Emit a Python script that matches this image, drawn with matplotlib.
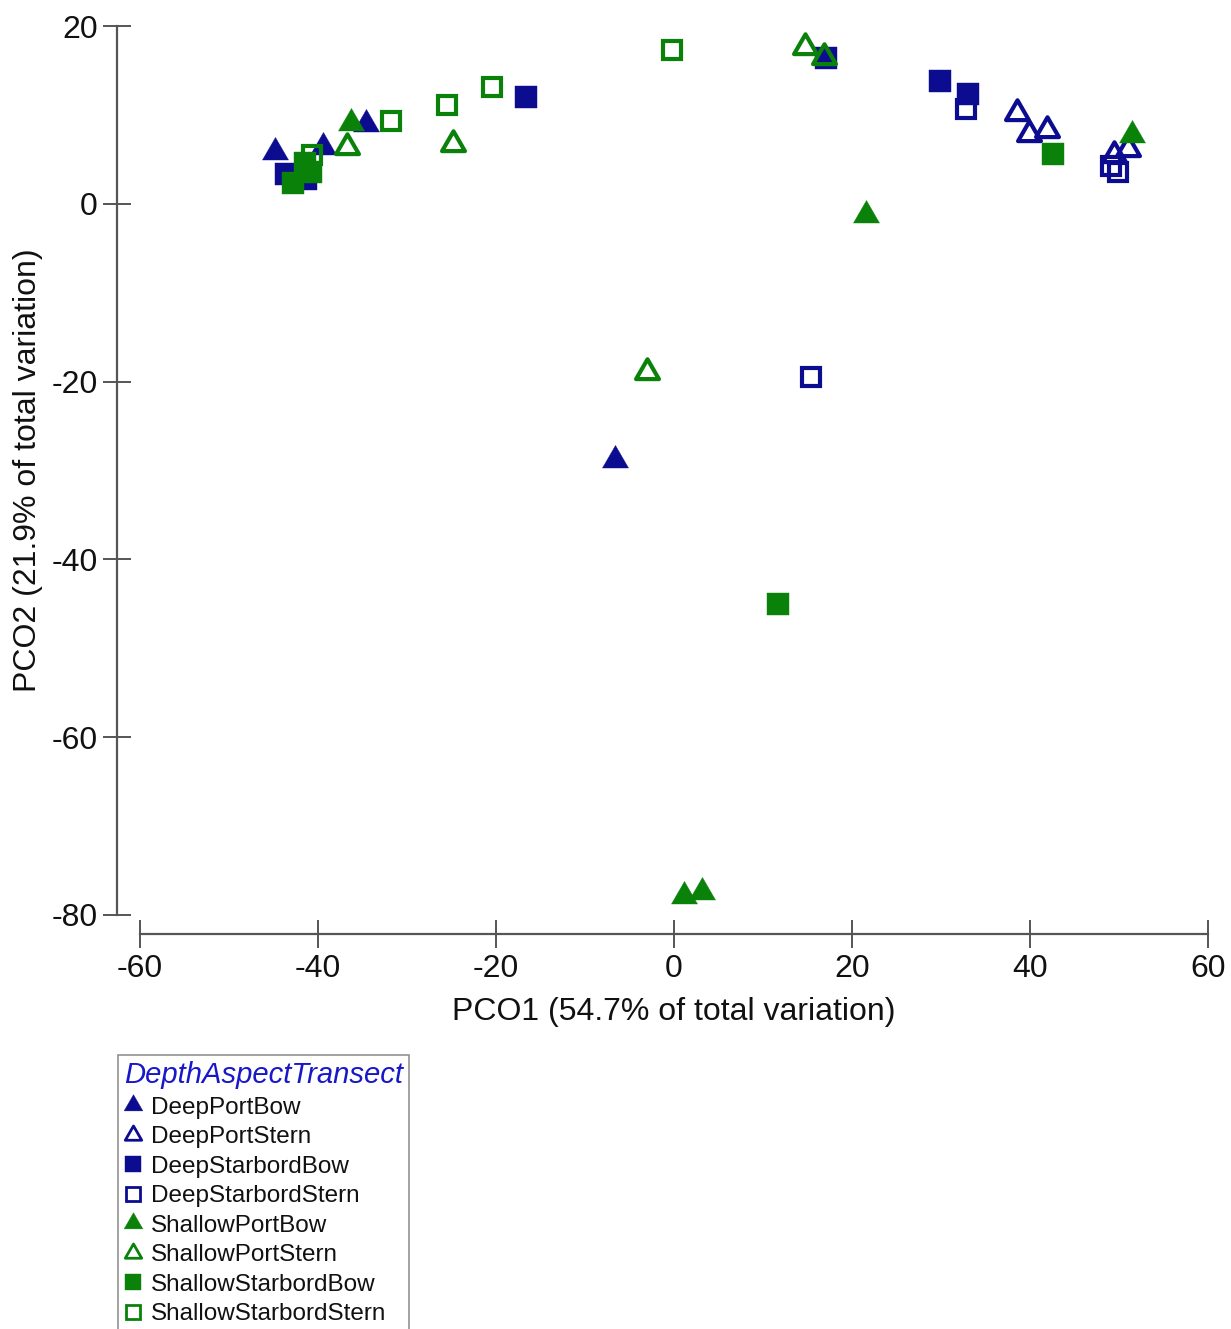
import matplotlib
matplotlib.use("Agg")
import matplotlib.pyplot as plt
from matplotlib.path import Path
from matplotlib.lines import Line2D

plt.rcParams['font.family'] = ['Liberation Sans', 'DejaVu Sans']
plt.rcParams['axes.unicode_minus'] = False

# ---- data ----
groups = ["DeepPortBow", "DeepPortStern", "DeepStarbordBow", "DeepStarbordStern",
          "ShallowPortBow", "ShallowPortStern", "ShallowStarbordBow", "ShallowStarbordStern"]

dpb_x = [-44.8, -39.4, -34.6, -6.6]
dpb_y = [5.8, 6.4, 9.0, -28.8]
dps_x = [38.5, 39.9, 41.9, 49.4, 51.0]
dps_y = [10.2, 7.9, 8.3, 5.5, 6.2]
dsb_x = [-43.6, -41.3, -16.6, 17.1, 29.9, 33.0]
dsb_y = [3.4, 2.8, 12.0, 16.4, 13.8, 12.4]
dss_x = [15.4, 32.8, 49.1, 49.9]
dss_y = [-19.5, 10.7, 4.2, 3.6]
spb_x = [-36.3, 1.1, 3.1, 21.6, 51.5]
spb_y = [9.1, -77.9, -77.4, -1.3, 7.7]
sps_x = [-36.7, -24.8, -3.0, 14.7, 16.9]
sps_y = [6.4, 6.7, -18.9, 17.6, 16.5]
ssb_x = [-42.8, -41.5, -40.8, 11.7, 42.6]
ssb_y = [2.3, 4.6, 3.6, -45.0, 5.6]
sss_x = [-40.7, -31.8, -25.5, -20.4, -0.2]
sss_y = [5.5, 9.3, 11.1, 13.1, 17.3]

xs = [dpb_x, dps_x, dsb_x, dss_x, spb_x, sps_x, ssb_x, sss_x]
ys = [dpb_y, dps_y, dsb_y, dss_y, spb_y, sps_y, ssb_y, sss_y]

x_ticks = [-60, -40, -20, 0, 20, 40, 60]
y_ticks = [-80, -60, -40, -20, 0, 20]

NAVY = '#0c0c90'
GREEN = '#0a820a'
colors = [NAVY] * 4 + [GREEN] * 4
shapes = ['tri', 'tri', 'sq', 'sq'] * 2
filled = [True, False, True, False] * 2

tri = Path([(-1, -0.5774), (1, -0.5774), (0, 1.1547), (-1, -0.5774)],
           [Path.MOVETO, Path.LINETO, Path.LINETO, Path.CLOSEPOLY])


def style(shape, fill, color, scale=1.0, edge=3.0):
    if shape == 'tri':
        m = tri
        ms = (21.6 if fill else 19.0) * scale
    else:
        m = 's'
        ms = (15.8 if fill else 13.5) * scale
    if fill:
        return dict(marker=m, markersize=ms, markerfacecolor=color,
                    markeredgecolor=color, markeredgewidth=0.3)
    return dict(marker=m, markersize=ms, markerfacecolor='none',
                markeredgecolor=color, markeredgewidth=edge)


fig = plt.figure(figsize=(12.31, 13.29), dpi=100)
ax = fig.add_axes([117 / 1231, 1 - 934 / 1329, 1 - 117 / 1231, (934 - 15) / 1329])

for i, g in enumerate(groups):
    ax.plot(xs[i], ys[i], linestyle='none', label=g,
            **style(shapes[i], filled[i], colors[i]))

ax.set_xlim(-62.58, 62.58)
ax.set_ylim(-82.14, 21.24)
for s in ['top', 'right']:
    ax.spines[s].set_visible(False)
for s in ['left', 'bottom']:
    ax.spines[s].set_color('#555555')
    ax.spines[s].set_linewidth(1.6)
ax.spines['left'].set_bounds(-80, 20)
ax.spines['bottom'].set_bounds(-60, 60)
ax.set_xticks(x_ticks)
ax.set_yticks(y_ticks)
ax.tick_params(direction='inout', length=19.5, width=1.4, color='#555555',
               labelsize=23, pad=4, labelcolor='#111111')
ax.tick_params(axis='x', pad=5)
ax.set_xlabel('PCO1 (54.7% of total variation)', fontsize=23, labelpad=9, color='#111111')
ax.set_ylabel('PCO2 (21.9% of total variation)', fontsize=23, color='#111111')
ax.yaxis.set_label_coords(-0.066, (-30 + 82.14) / (82.14 + 21.24))
ax.patch.set_alpha(0)

handles = [Line2D([], [], linestyle='none',
                  **style(shapes[i], filled[i], colors[i], 0.72, 2.0))
           for i in range(len(groups))]
leg = fig.legend(handles, groups, loc='upper left',
                 bbox_to_anchor=(118 / 1231, 1 - 1055 / 1329),
                 title='DepthAspectTransect', fontsize=17.5,
                 title_fontproperties={'size': 21.1, 'style': 'italic'},
                 frameon=True, fancybox=False, edgecolor='#777777',
                 borderpad=0.25, labelspacing=0.31, handlelength=0.75,
                 handletextpad=0.35, borderaxespad=0, alignment='left')
leg.get_title().set_color('#1818c8')
leg.get_frame().set_linewidth(1.2)
for t in leg.get_texts():
    t.set_color('#111111')

fig.savefig('out.png', dpi=100)
